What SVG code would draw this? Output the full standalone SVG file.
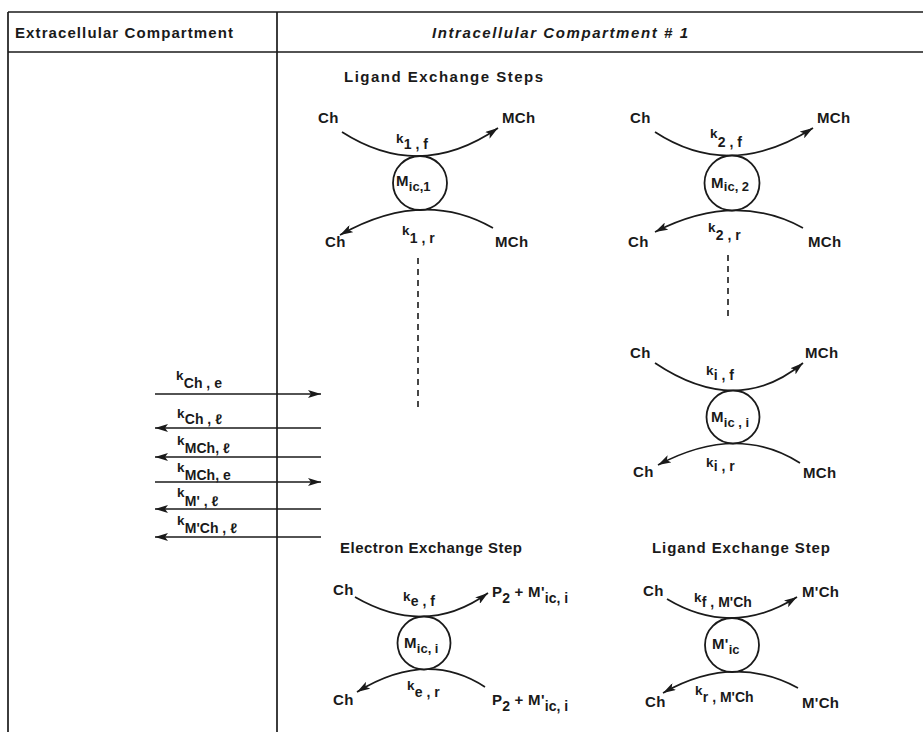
<svg xmlns="http://www.w3.org/2000/svg" width="923" height="732" viewBox="0 0 923 732">
<defs>
<style>
.t{font-family:"Liberation Sans",Arial,"DejaVu Sans",sans-serif;font-weight:bold;font-size:15px;fill:#1a1a1a;letter-spacing:0.3px}
.h{font-size:15px;letter-spacing:0}
.k{font-size:13.5px}
.s{font-size:14px;letter-spacing:0}
.cs{font-size:13px;letter-spacing:0}
.ln{stroke:#1a1a1a;stroke-width:1.7;fill:none}
.bd{stroke:#1a1a1a;stroke-width:1.7;fill:none}
.dash{stroke:#1a1a1a;stroke-width:1.6;stroke-dasharray:6 5;fill:none}
.c{stroke:#1a1a1a;stroke-width:1.8;fill:#fff}
</style>
<marker id="ah" markerUnits="userSpaceOnUse" markerWidth="14" markerHeight="8" refX="13" refY="4" orient="auto">
<path d="M0,0 L13,4 L0,8 L3,4 z" fill="#1a1a1a"/>
</marker>
</defs>
<rect width="923" height="732" fill="#fff"/>

<g id="table">
<line class="bd" x1="8" y1="12" x2="923" y2="12"/>
<line class="bd" x1="8" y1="52" x2="923" y2="52"/>
<line class="bd" x1="8" y1="12" x2="8" y2="732"/>
<line class="bd" x1="277" y1="12" x2="277" y2="732"/>
<text class="t h" x="15" y="38" textLength="218" lengthAdjust="spacing">Extracellular Compartment</text>
<text class="t h" x="432" y="38" textLength="256" lengthAdjust="spacing" font-style="italic">Intracellular Compartment  # 1</text>
<text class="t h" x="344" y="82" textLength="199" lengthAdjust="spacing">Ligand Exchange Steps</text>
<text class="t h" x="340" y="553" textLength="182" lengthAdjust="spacing">Electron Exchange Step</text>
<text class="t h" x="652" y="553" textLength="178" lengthAdjust="spacing">Ligand Exchange Step</text>
</g>

<g id="connectors">
<!-- module 1 -->
<path class="ln" d="M342,132 Q420,182 498,128" marker-end="url(#ah)"/>
<path class="ln" d="M493,228 Q423,188 340,235" marker-end="url(#ah)"/>
<line class="dash" x1="418" y1="258" x2="418" y2="408"/>
<!-- module 2 -->
<path class="ln" d="M655,132 Q730,181 813,128" marker-end="url(#ah)"/>
<path class="ln" d="M803,228 Q735,191 655,232" marker-end="url(#ah)"/>
<line class="dash" x1="728" y1="255" x2="728" y2="317"/>
<!-- module i -->
<path class="ln" d="M655,363 Q737,418 803,363" marker-end="url(#ah)"/>
<path class="ln" d="M800,463 Q737,423 658,465" marker-end="url(#ah)"/>
<!-- electron exchange -->
<path class="ln" d="M355,597 Q426,638 488,593" marker-end="url(#ah)"/>
<path class="ln" d="M485,687 Q427,649 357,692" marker-end="url(#ah)"/>
<!-- ligand exchange step -->
<path class="ln" d="M667,599 Q732,638 797,597" marker-end="url(#ah)"/>
<path class="ln" d="M798,688 Q733,653 663,693" marker-end="url(#ah)"/>
<!-- membrane fluxes -->
<line class="ln" x1="155" y1="394" x2="321" y2="394" marker-end="url(#ah)"/>
<line class="ln" x1="321" y1="428" x2="155" y2="428" marker-end="url(#ah)"/>
<line class="ln" x1="321" y1="457" x2="155" y2="457" marker-end="url(#ah)"/>
<line class="ln" x1="155" y1="482" x2="321" y2="482" marker-end="url(#ah)"/>
<line class="ln" x1="321" y1="509" x2="155" y2="509" marker-end="url(#ah)"/>
<line class="ln" x1="321" y1="537" x2="155" y2="537" marker-end="url(#ah)"/>
</g>

<g id="flux-labels">
<text class="t" x="176" y="380"><tspan class="k">k</tspan><tspan class="s" dy="8">Ch , e</tspan></text>
<text class="t" x="177" y="418"><tspan class="k">k</tspan><tspan class="s" dy="6">Ch , ℓ</tspan></text>
<text class="t" x="177" y="445"><tspan class="k">k</tspan><tspan class="s" dy="8">MCh, ℓ</tspan></text>
<text class="t" x="177" y="472"><tspan class="k">k</tspan><tspan class="s" dy="8">MCh, e</tspan></text>
<text class="t" x="177" y="497"><tspan class="k">k</tspan><tspan class="s" dy="9">M' , ℓ</tspan></text>
<text class="t" x="177" y="525"><tspan class="k">k</tspan><tspan class="s" dy="8">M'Ch , ℓ</tspan></text>
</g>

<g id="node-m1">
<circle class="c" cx="420" cy="183" r="27"/>
<text class="t" x="396" y="186">M<tspan class="cs" dy="5">ic,1</tspan></text>
<text class="t" x="318" y="123">Ch</text>
<text class="t" x="502" y="123">MCh</text>
<text class="t" x="396" y="143"><tspan class="k">k</tspan><tspan class="s" dy="6">1 , f</tspan></text>
<text class="t" x="325" y="247">Ch</text>
<text class="t" x="402" y="235"><tspan class="k">k</tspan><tspan class="s" dy="8">1 , r</tspan></text>
<text class="t" x="495" y="247">MCh</text>
</g>

<g id="node-m2">
<circle class="c" cx="732" cy="183" r="27.5"/>
<text class="t" x="711" y="188">M<tspan class="cs" dy="3">ic, 2</tspan></text>
<text class="t" x="630" y="123">Ch</text>
<text class="t" x="817" y="123">MCh</text>
<text class="t" x="710" y="138"><tspan class="k">k</tspan><tspan class="s" dy="9">2 , f</tspan></text>
<text class="t" x="628" y="247">Ch</text>
<text class="t" x="708" y="232"><tspan class="k">k</tspan><tspan class="s" dy="8">2 , r</tspan></text>
<text class="t" x="808" y="247">MCh</text>
</g>

<g id="node-mi">
<circle class="c" cx="733" cy="417" r="26.5"/>
<text class="t" x="711" y="422">M<tspan class="cs" dy="5">ic , i</tspan></text>
<text class="t" x="630" y="358">Ch</text>
<text class="t" x="805" y="358">MCh</text>
<text class="t" x="706" y="375"><tspan class="k">k</tspan><tspan class="s" dy="5">i , f</tspan></text>
<text class="t" x="633" y="477">Ch</text>
<text class="t" x="706" y="467"><tspan class="k">k</tspan><tspan class="s" dy="4">i , r</tspan></text>
<text class="t" x="803" y="478">MCh</text>
</g>

<g id="node-electron">
<circle class="c" cx="424" cy="643" r="26.5"/>
<text class="t" x="404" y="648">M<tspan class="cs" dy="5">ic, i</tspan></text>
<text class="t" x="333" y="595">Ch</text>
<text class="t" x="403" y="601"><tspan class="k">k</tspan><tspan class="s" dy="5">e , f</tspan></text>
<text class="t" x="492" y="597">P<tspan class="s" dy="6">2</tspan><tspan dy="-6"> + M'</tspan><tspan class="s" dy="6">ic, i</tspan></text>
<text class="t" x="333" y="705">Ch</text>
<text class="t" x="407" y="690"><tspan class="k">k</tspan><tspan class="s" dy="7">e , r</tspan></text>
<text class="t" x="492" y="705">P<tspan class="s" dy="6">2</tspan><tspan dy="-6"> + M'</tspan><tspan class="s" dy="6">ic, i</tspan></text>
</g>

<g id="node-ligand">
<circle class="c" cx="732" cy="645" r="27"/>
<text class="t" x="712" y="649">M'<tspan class="cs" dy="5">ic</tspan></text>
<text class="t" x="643" y="596">Ch</text>
<text class="t" x="694" y="602"><tspan class="k">k</tspan><tspan class="s" dy="5">f , M'Ch</tspan></text>
<text class="t" x="802" y="597">M'Ch</text>
<text class="t" x="645" y="707">Ch</text>
<text class="t" x="695" y="695"><tspan class="k">k</tspan><tspan class="s" dy="7">r , M'Ch</tspan></text>
<text class="t" x="802" y="708">M'Ch</text>
</g>
</svg>
